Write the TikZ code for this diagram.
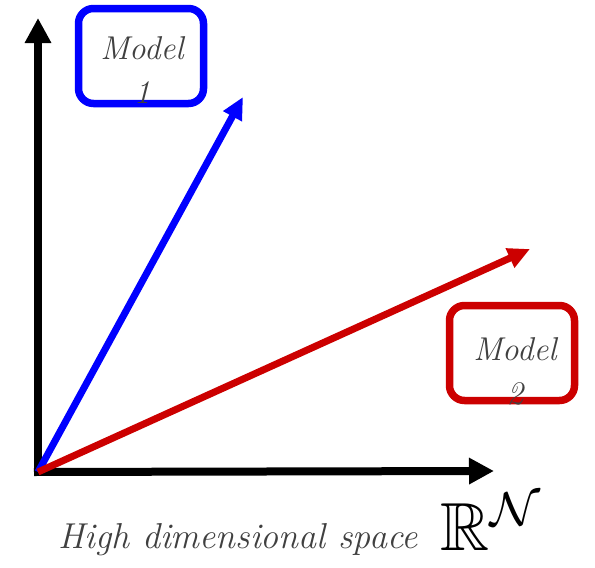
\documentclass[tikz,border=0pt]{standalone}
\usepackage{amsmath,amssymb}
\usepackage{xcolor}
\usetikzlibrary{positioning,calc,arrows.meta}

\definecolor{modelblue}{RGB}{0,0,255}
\definecolor{modelred}{RGB}{204,0,0}
\definecolor{txtgray}{RGB}{64,64,64}

\tikzset{
  axis/.style={line width=8pt, -{Triangle[length=25pt,width=25pt]}},
  vec/.style={line width=7pt, -{Triangle[length=22pt,width=20pt]}},
  modelbox/.style={draw, line width=7.5pt, rounded corners=15pt, minimum width=125pt, minimum height=95pt},
  modeltext/.style={text=txtgray, font=\fontsize{33}{44}\selectfont\itshape, align=center}
}

\begin{document}
\begin{tikzpicture}[x=1pt, y=-1pt]
  \useasboundingbox (0,0) rectangle (595,568);

  \coordinate (O) at (38,472);
  \coordinate (ytop) at (38,18);
  \coordinate (xend) at (494,471);
  \coordinate (v1) at (243,97);
  \coordinate (v2) at (530,249);

  % model boxes
  \node[modelbox, draw=modelblue] (m1box) at (141,56) {};
  \node[modelbox, draw=modelred] (m2box) at (512,353) {};
  \node[modeltext] (m1) at (142,70) {Model\\1};
  \node[modeltext] (m2) at (515,371) {Model\\2};

  % axes
  \draw[axis] (O) -- (ytop);
  \draw[axis] ([xshift=-4pt]O) -- (xend);

  % vectors
  \draw[vec, modelblue] (O) -- (v1);
  \draw[vec, modelred] (O) -- (v2);

  % labels
  \node[text=txtgray, font=\fontsize{36}{40}\selectfont\itshape] (space) at (238,540) {High dimensional space};
  \node[anchor=base west, inner sep=0pt] (rn) at (440,550) {\scalebox{6.8}{$\mathbb{R}^{\mathcal{N}}$}};
\end{tikzpicture}
\end{document}
